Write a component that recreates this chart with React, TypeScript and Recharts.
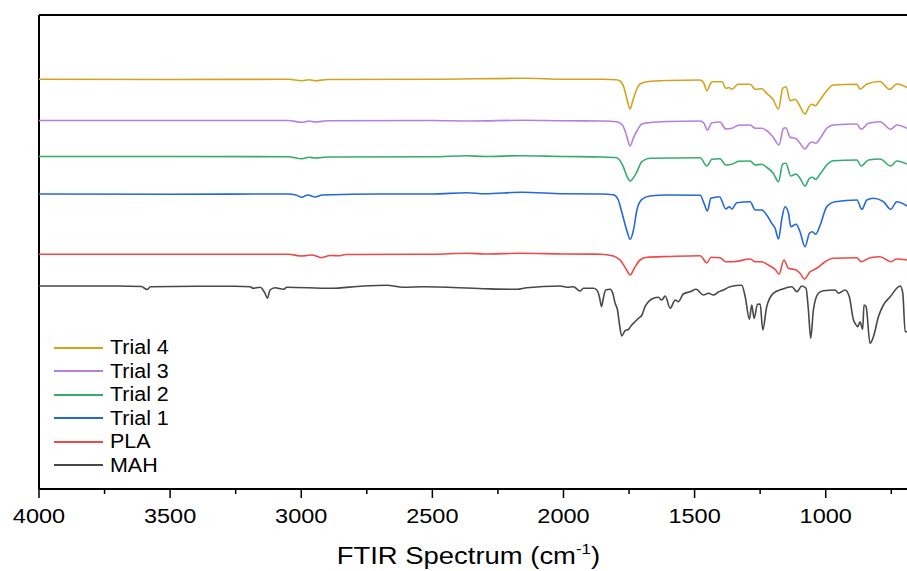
import React from "react";
import { LineChart, Line, XAxis, YAxis, ReferenceLine } from "recharts";

// x: wavenumber (cm-1), y: transmittance (arbitrary offset units)
const trial4: [number, number][] = [
  [4000, 409.7], [3500, 409.5], [3050, 409.7], [2998, 408.3], [2970, 409.2], [2947, 408.3], [2900, 409.5],
  [2500, 409.7], [2154, 410.7], [2000, 409.8], [1850, 409.7], [1800, 409.2], [1784, 408], [1770, 402],
  [1760, 392], [1746, 380], [1735, 389], [1720, 400], [1708, 405], [1681, 407.3], [1600, 408.5],
  [1479, 409], [1465, 406], [1453, 398.3], [1440, 405], [1433, 407.3], [1395, 407.3], [1381, 400.7],
  [1370, 401.5], [1358, 399.7], [1334, 404.7], [1288, 404.7], [1269, 399.7], [1244, 400.3], [1225, 395.7],
  [1201, 389.7], [1180, 380], [1164, 400.7], [1151, 402.3], [1136, 388.3], [1117, 389.7], [1105, 386],
  [1079, 375], [1062, 383], [1051, 384.7], [1040, 383.3], [1022, 389], [996, 398.3], [971, 404],
  [881, 404.7], [869, 399.7], [843, 405], [793, 407.5], [756, 399.5], [729, 405], [690, 401.5],
];

const trial3: [number, number][] = [
  [4000, 368.5], [3500, 368.5], [3050, 368.5], [2998, 366.7], [2970, 368], [2947, 367], [2900, 368.2],
  [2500, 368.5], [2356, 368], [2154, 368.7], [2000, 368.2], [1850, 368], [1797, 367.3], [1775, 364],
  [1760, 354], [1746, 343], [1734, 350.7], [1720, 358], [1701, 365], [1670, 366.5], [1600, 367.5],
  [1479, 368], [1465, 366], [1451, 359], [1434, 366.3], [1403, 367], [1381, 360], [1358, 360.7],
  [1333, 363.7], [1288, 364], [1269, 360.7], [1244, 360.7], [1225, 358.3], [1200, 351.7], [1178, 344],
  [1161, 360.7], [1152, 361.3], [1136, 351.7], [1113, 350.3], [1098, 345.7], [1079, 340], [1062, 345.7],
  [1051, 347], [1038, 345.7], [1021, 350.7], [996, 360.7], [971, 364], [881, 365], [865, 359.7],
  [837, 365.7], [793, 367.3], [752, 359.7], [729, 364], [690, 360.7],
];

const trial2: [number, number][] = [
  [4000, 332.5], [3050, 332.3], [2998, 330.3], [2970, 331.8], [2947, 331], [2900, 332], [2500, 332.2],
  [2369, 333.3], [2300, 332.5], [2166, 333.3], [2000, 332.5], [1850, 332], [1797, 331.3], [1772, 322.3],
  [1760, 314], [1746, 308], [1723, 315.7], [1701, 327.3], [1670, 330.7], [1479, 331.3], [1453, 323],
  [1434, 329.7], [1403, 330.3], [1381, 324], [1358, 324.7], [1333, 327.7], [1288, 328], [1269, 324],
  [1244, 324.7], [1225, 321.7], [1200, 315.7], [1180, 307.3], [1164, 325], [1152, 325.7], [1133, 313],
  [1113, 315], [1098, 310.7], [1079, 303], [1062, 310.7], [1051, 311.7], [1038, 309.7], [1021, 315],
  [996, 324], [971, 328.3], [881, 329], [865, 323], [837, 329], [793, 330], [752, 323], [729, 328], [690, 325],
];

const trial1: [number, number][] = [
  [4000, 295], [3500, 294.8], [3050, 295], [3020, 294], [2998, 291.7], [2975, 294], [2947, 292],
  [2920, 294], [2700, 295], [2500, 295], [2369, 296.3], [2300, 295.2], [2159, 296.7], [2000, 295.2],
  [1860, 295], [1810, 294.3], [1791, 289], [1778, 277.3], [1759, 259], [1746, 249.7], [1733, 259],
  [1720, 279], [1701, 289.7], [1670, 293], [1606, 294], [1479, 293.7], [1464, 285.7], [1451, 278],
  [1438, 290.7], [1405, 292.3], [1381, 280], [1368, 282.3], [1358, 280], [1339, 286.3], [1288, 287.3],
  [1269, 279], [1244, 279], [1225, 274], [1206, 265.7], [1193, 260.7], [1180, 250], [1167, 270.7],
  [1155, 282.3], [1142, 275.7], [1133, 262.3], [1113, 264.7], [1098, 257.3], [1079, 242.3], [1062, 255.7],
  [1051, 257.3], [1038, 254.7], [1021, 264], [996, 282.3], [964, 287.3], [881, 289], [862, 279.7],
  [843, 289], [818, 290.7], [780, 287.3], [752, 279.7], [729, 287.3], [690, 283],
];

const pla: [number, number][] = [
  [4000, 234.8], [3500, 234.7], [3050, 234.7], [2998, 233], [2960, 234], [2922, 231.3], [2890, 233.5],
  [2852, 233.3], [2830, 234.5], [2500, 234.8], [2364, 235.7], [2300, 235], [2166, 235.7], [2000, 235],
  [1860, 234.8], [1810, 233], [1784, 229], [1759, 219], [1746, 214], [1730, 220.7], [1708, 229],
  [1682, 231.7], [1600, 232.5], [1479, 233.3], [1453, 226.3], [1437, 231.7], [1403, 231.3], [1381, 227.3],
  [1352, 227.3], [1288, 230], [1269, 227.3], [1244, 227.3], [1219, 224], [1193, 219.7], [1178, 215],
  [1159, 229], [1142, 220.7], [1113, 219], [1098, 215.7], [1081, 210], [1059, 217.3], [1047, 219],
  [1034, 220.7], [1002, 227.3], [971, 230.7], [881, 231.3], [865, 227.3], [831, 231.3], [793, 232.3],
  [752, 227.3], [729, 230], [690, 229],
];

const mah: [number, number][] = [
  [4000, 203], [3700, 203], [3610, 202.5], [3588, 199.5], [3575, 202.2], [3400, 202.7], [3250, 202.7],
  [3195, 202.3], [3183, 200.7], [3157, 201.7], [3138, 195.7], [3129, 190.7], [3119, 199], [3100, 201.3],
  [3068, 199.7], [3055, 201.7], [2890, 200.7], [2763, 203], [2674, 203.7], [2611, 201.7], [2534, 202.3],
  [2305, 200.3], [2178, 199.7], [2140, 201.3], [2013, 203], [1987, 201.8], [1962, 202.3], [1937, 198],
  [1924, 200.7], [1886, 200.7], [1873, 199], [1863, 192.3], [1855, 182.3], [1848, 190.7], [1839, 199],
  [1822, 199.7], [1812, 195.7], [1803, 185.7], [1794, 179], [1787, 165.7], [1778, 153], [1765, 158.3],
  [1752, 159.7], [1740, 164], [1727, 167.3], [1714, 170.7], [1701, 174], [1689, 182.3], [1676, 187.3],
  [1657, 190.7], [1638, 191.7], [1625, 189], [1612, 193], [1593, 180.7], [1574, 189], [1562, 187.3],
  [1543, 195], [1517, 197.3], [1494, 199.7], [1466, 194], [1447, 195.7], [1428, 194], [1409, 197],
  [1390, 199], [1365, 202.3], [1320, 203.7], [1307, 192.3], [1291, 169.7], [1282, 184], [1273, 170.7],
  [1260, 184.7], [1250, 185], [1240, 159], [1225, 182.3], [1200, 195.7], [1167, 199.7], [1129, 202.3],
  [1110, 197.3], [1091, 203], [1075, 200.7], [1066, 179], [1057, 150.7], [1047, 179], [1028, 195.7],
  [1009, 198.3], [964, 199], [951, 195.7], [926, 199], [910, 192.3], [894, 169], [888, 165.7],
  [878, 162.3], [869, 167.3], [859, 159.7], [854, 184], [846, 182.3], [831, 145.7], [818, 152.3],
  [799, 172.3], [780, 184], [754, 192.3], [716, 203], [706, 195.7], [697, 157.3], [690, 157.3],
];

const seriesNames = ["Trial 4", "Trial 3", "Trial 2", "Trial 1", "PLA", "MAH"];
const seriesColors = ["#D4A21C", "#B57FE0", "#35AC6C", "#2468DA", "#F04848", "#484848"];
const seriesData = [trial4, trial3, trial2, trial1, pla, mah];

const xTicks = [4000, 3750, 3500, 3250, 3000, 2750, 2500, 2250, 2000, 1750, 1500, 1250, 1000, 750];
const xDomain: [number, number] = [690, 4000];
const yDomain: [number, number] = [0, 474];

const FONT = "'Liberation Sans', Arial, Helvetica, sans-serif";

const toPoints = (pairs: [number, number][]) => pairs.map(([wn, t]) => ({ wn, t }));

const XTick = (props: any) => {
  const { x, y, payload } = props;
  const v = payload.value as number;
  const major = v % 500 === 0;
  return (
    <g>
      <line x1={x} x2={x} y1={y} y2={y + (major ? 9 : 5)} stroke="#000" strokeWidth={1.5} />
      {major && (
        <text
          transform={`translate(${x},${y + 33.5}) scale(1.12,1)`}
          textAnchor="middle"
          fontSize={21}
          fontFamily={FONT}
          fill="#000"
        >
          {v}
        </text>
      )}
    </g>
  );
};

const AxisTitle = (props: any) => {
  const vb = props.viewBox || { x: 39, y: 489 };
  const tx = vb.x + 297.7;
  const ty = 563.5;
  return (
    <text transform={`translate(${tx},${ty}) scale(1.12,1)`} fontSize={24.5} fontFamily={FONT} fill="#000">
      <tspan>FTIR Spectrum (cm</tspan>
      <tspan dy={-10} fontSize={15}>-1</tspan>
      <tspan dy={10}>)</tspan>
    </text>
  );
};

const LegendBox = () => (
  <div style={{ position: "absolute", left: 54, top: 336, fontFamily: FONT, pointerEvents: "none" }}>
    {seriesNames.map((name, i) => (
      <div key={name} style={{ display: "flex", alignItems: "center", height: 23.5 }}>
        <svg width={49} height={4} style={{ display: "block" }}>
          <line x1={0} x2={49} y1={2} y2={2} stroke={seriesColors[i]} strokeWidth={2} />
        </svg>
        <span
          style={{
            marginLeft: 7,
            fontSize: 19.5,
            lineHeight: "23.5px",
            color: "#000",
            display: "inline-block",
            transform: "scaleX(1.1)",
            transformOrigin: "left center",
            whiteSpace: "nowrap",
          }}
        >
          {name}
        </span>
      </div>
    ))}
  </div>
);

export default function App() {
  return (
    <div style={{ position: "absolute", left: 0, top: 0, width: 907, height: 571, background: "#fff" }}>
      <LineChart width={907} height={571} margin={{ top: 15, right: 0, bottom: 0, left: 39 }}>
        <XAxis
          xAxisId="main"
          dataKey="wn"
          type="number"
          domain={xDomain}
          reversed
          allowDataOverflow
          ticks={xTicks}
          interval={0}
          height={82}
          tickSize={0}
          tickMargin={0}
          tickLine={false}
          tick={<XTick />}
          axisLine={{ stroke: "#000", strokeWidth: 2 }}
          label={{ content: <AxisTitle /> }}
        />
        <YAxis yAxisId="y" type="number" domain={yDomain} allowDataOverflow hide />
        <ReferenceLine xAxisId="main" yAxisId="y" x={4000} stroke="#000" strokeWidth={2} ifOverflow="visible" />
        <ReferenceLine xAxisId="main" yAxisId="y" y={474} stroke="#000" strokeWidth={2} ifOverflow="visible" />
        {seriesNames.map((name, i) => (
          <Line
            key={name}
            name={name}
            xAxisId="main"
            yAxisId="y"
            data={toPoints(seriesData[i])}
            dataKey="t"
            type="monotone"
            stroke={seriesColors[i]}
            strokeWidth={1.6}
            dot={false}
            activeDot={false}
            isAnimationActive={false}
          />
        ))}
      </LineChart>
      <LegendBox />
    </div>
  );
}
